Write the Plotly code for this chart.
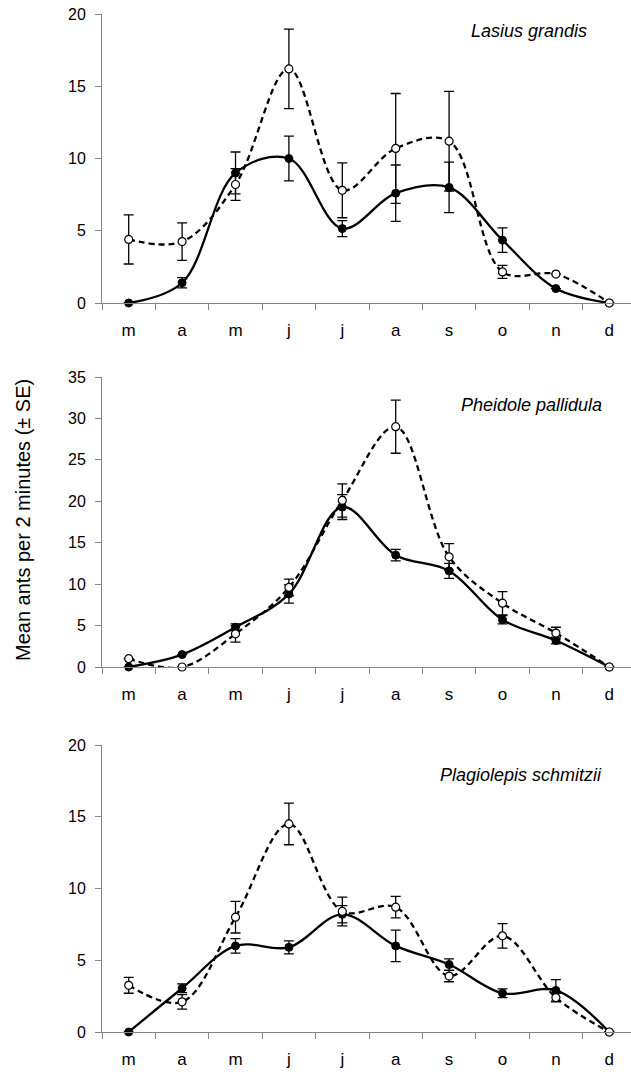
import plotly.graph_objects as go

# ---------------- data ----------------
months = ["m", "a", "m", "j", "j", "a", "s", "o", "n", "d"]
species = ["Lasius grandis", "Pheidole pallidula", "Plagiolepis schmitzii"]
y_max = [20, 35, 20]
y_title = "Mean ants per 2 minutes (± SE)"

# Lasius grandis
lasius_filled = [0, 1.4, 9.0, 10.0, 5.15, 7.6, 8.0, 4.35, 1.0, 0]
lasius_filled_se = [0, 0.35, 1.45, 1.55, 0.55, 1.95, 1.75, 0.85, 0, 0]
lasius_open = [4.4, 4.25, 8.2, 16.2, 7.8, 10.7, 11.2, 2.15, 2.0, 0]
lasius_open_se = [1.7, 1.3, 1.1, 2.75, 1.9, 3.8, 3.45, 0.45, 0, 0]

# Pheidole pallidula
pheidole_filled = [0, 1.5, 4.8, 8.8, 19.3, 13.5, 11.6, 5.7, 3.2, 0]
pheidole_filled_se = [0, 0, 0.4, 1.1, 1.5, 0.7, 0.9, 0.5, 0.4, 0]
pheidole_open = [1.0, 0, 4.0, 9.6, 20.1, 29.0, 13.3, 7.7, 4.1, 0]
pheidole_open_se = [0, 0, 1.0, 1.0, 2.0, 3.2, 1.6, 1.4, 0.7, 0]

# Plagiolepis schmitzii
plagiolepis_filled = [0, 3.05, 6.0, 5.9, 8.2, 6.0, 4.7, 2.7, 2.9, 0]
plagiolepis_filled_se = [0, 0.3, 0.5, 0.45, 0.6, 1.1, 0.4, 0.3, 0.75, 0]
plagiolepis_open = [3.25, 2.1, 8.0, 14.5, 8.4, 8.7, 3.9, 6.7, 2.4, 0]
plagiolepis_open_se = [0.55, 0.5, 1.1, 1.45, 1.0, 0.75, 0.4, 0.85, 0.3, 0]

panels = [
    (lasius_filled, lasius_filled_se, lasius_open, lasius_open_se),
    (pheidole_filled, pheidole_filled_se, pheidole_open, pheidole_open_se),
    (plagiolepis_filled, plagiolepis_filled_se, plagiolepis_open, plagiolepis_open_se),
]

# ---------------- layout constants ----------------
W, H = 631, 1075
FONT = "Liberation Sans, Arial, sans-serif"
GRAY = "#868686"
# pixel positions (top, bottom) of each panel's plot area
panel_px = [(14, 303), (377, 667), (745, 1032)]
label_px = [(589, 31), (604, 405), (604, 775)]
x_left_px = 102

x_idx = list(range(len(months)))

fig = go.Figure()

for i, (f, fse, o, ose) in enumerate(panels):
    ax = "" if i == 0 else str(i + 1)
    fig.add_trace(go.Scatter(
        x=x_idx, y=f, xaxis="x" + ax, yaxis="y" + ax,
        mode="lines+markers", name="filled", showlegend=False,
        line=dict(color="black", width=2.3, shape="spline", smoothing=1),
        marker=dict(symbol="circle", size=8, color="black",
                    line=dict(color="black", width=1)),
        error_y=dict(type="data", array=fse, visible=True, color="black",
                     thickness=1.3, width=5),
        cliponaxis=False,
    ))
    fig.add_trace(go.Scatter(
        x=x_idx, y=o, xaxis="x" + ax, yaxis="y" + ax,
        mode="lines+markers", name="open", showlegend=False,
        line=dict(color="black", width=2.3, dash="6px,4px",
                  shape="spline", smoothing=1),
        marker=dict(symbol="circle", size=8, color="white",
                    line=dict(color="black", width=1.2)),
        error_y=dict(type="data", array=ose, visible=True, color="black",
                     thickness=1.3, width=5),
        cliponaxis=False,
    ))

    top, bot = panel_px[i]
    dom_y = [1 - bot / H, 1 - top / H]
    x_range_max = -0.5 + (W - x_left_px) / 53.4

    fig.update_layout(**{
        "xaxis" + ax: dict(
            domain=[x_left_px / W, 1], anchor="y" + ax,
            range=[-0.5, x_range_max], tickmode="array",
            tickvals=x_idx, ticktext=months, ticks="",
            showline=True, linecolor=GRAY, linewidth=1,
            showgrid=False, zeroline=False,
            tickfont=dict(family=FONT, size=17, color="black"),
            ticklabelstandoff=12,
            minor=dict(tickmode="array",
                       tickvals=[k - 0.5 for k in range(len(months))],
                       ticks="outside", ticklen=6, tickcolor=GRAY,
                       tickwidth=1, showgrid=False),
            fixedrange=True,
        ),
        "yaxis" + ax: dict(
            domain=dom_y, anchor="x" + ax,
            range=[0, y_max[i]], tickmode="linear", tick0=0, dtick=5,
            ticks="outside", ticklen=6, tickcolor=GRAY, tickwidth=1,
            showline=True, linecolor=GRAY, linewidth=1,
            showgrid=False, zeroline=False,
            tickfont=dict(family=FONT, size=16, color="black"),
            ticklabelstandoff=6,
            fixedrange=True,
        ),
    })

    lx, ly = label_px[i]
    fig.add_annotation(
        text="<i>" + species[i] + "</i>", xref="paper", yref="paper",
        x=lx / W, y=1 - ly / H, xanchor="right", yanchor="middle",
        showarrow=False, font=dict(family=FONT, size=18, color="black"),
    )

fig.add_annotation(
    text=y_title, xref="paper", yref="paper",
    x=23 / W, y=1 - 520 / H, xanchor="center", yanchor="middle",
    textangle=-90, showarrow=False,
    font=dict(family=FONT, size=20, color="black"),
)

fig.update_layout(
    width=W, height=H,
    margin=dict(l=0, r=0, t=0, b=0, autoexpand=False),
    paper_bgcolor="white", plot_bgcolor="white",
    showlegend=False,
)

fig.write_html("out.html")
